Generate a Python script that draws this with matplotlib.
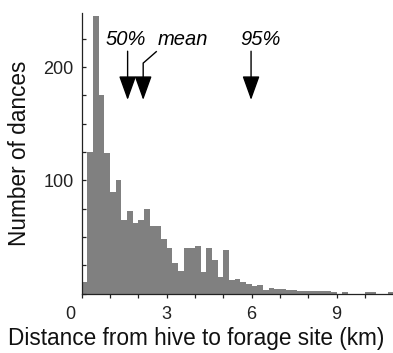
import numpy as np
import matplotlib
matplotlib.use("Agg")
import matplotlib.pyplot as plt
from matplotlib.transforms import ScaledTranslation

plt.rcParams['font.family'] = ['Liberation Sans', 'DejaVu Sans']

# Histogram: bins of 0.2 km from 0 to 11 km
bin_width = 0.2
bin_left = np.round(np.arange(0, 11, bin_width), 1)
counts = [10, 125, 245, 175, 124, 90, 100, 65, 73, 62,
          65, 75, 60, 60, 48, 40, 27, 20, 40, 40,
          42, 19, 40, 30, 15, 39, 12, 13, 10, 8.5,
          7, 8, 3, 5, 4, 4, 3.5, 3.5, 2.5, 2,
          2.5, 2, 2, 2.5, 1.5, 0, 1.5, 0, 0, 0,
          1.5, 1.5, 0, 0, 1.5]

# markers (km)
median_km = 1.62
mean_km = 2.17
p95_km = 5.98

fig = plt.figure(figsize=(3.93, 3.53), dpi=100)
ax = fig.add_axes([0.208, 0.168, 0.7925, 0.796])

ax.bar(bin_left, counts, width=bin_width, align='edge', color='#808080',
       linewidth=0)

ax.set_xlim(0, 11)
ax.set_ylim(0, 248)

ax.spines['top'].set_visible(False)
ax.spines['right'].set_visible(False)
for s in ['left', 'bottom']:
    ax.spines[s].set_linewidth(0.9)
    ax.spines[s].set_color('#222222')

ax.set_xticks(range(0, 11))
ax.set_xticklabels(['0', '', '', '3', '', '', '6', '', '', '9', ''])
ax.set_yticks(range(0, 250, 25))
ax.set_yticklabels(['', '', '', '', '100', '', '', '', '200', ''])
ax.tick_params(axis='x', direction='out', length=3, width=0.9, pad=6,
               labelsize=13, colors='#222222')
ax.tick_params(axis='y', direction='in', length=3, width=0.9, pad=6,
               labelsize=13, colors='#222222')

# shift the "0" label a little to the left like in the original
lbl0 = ax.get_xticklabels()[0]
lbl0.set_transform(lbl0.get_transform() +
                   ScaledTranslation(-0.11, 0, fig.dpi_scale_trans))

ax.set_xlabel('Distance from hive to forage site (km)', fontsize=16.3,
              color='#111111')
ax.xaxis.set_label_coords(0.367, -0.118)
ax.set_ylabel('Number of dances', fontsize=16.3, labelpad=9, color='#111111')

arrow = dict(arrowstyle='-|>,head_length=0.75,head_width=0.27',
             mutation_scale=20, color='black', lw=1.0, shrinkA=0, shrinkB=0)

ax.annotate('', xy=(median_km, 171), xytext=(median_km, 214), arrowprops=arrow)
ax.annotate('', xy=(mean_km, 171), xytext=(mean_km, 203.5), arrowprops=arrow)
ax.plot([mean_km, 2.65], [203.5, 214], color='black', lw=1.0,
        solid_capstyle='butt')
ax.annotate('', xy=(p95_km, 171), xytext=(p95_km, 214), arrowprops=arrow)

ax.text(1.57, 219.5, '50%', style='italic', fontsize=14.5, ha='center',
        va='baseline')
ax.text(3.57, 219.5, 'mean', style='italic', fontsize=14.5, ha='center',
        va='baseline')
ax.text(6.3, 219.5, '95%', style='italic', fontsize=14.5, ha='center',
        va='baseline')

fig.savefig('out.png', dpi=100)
